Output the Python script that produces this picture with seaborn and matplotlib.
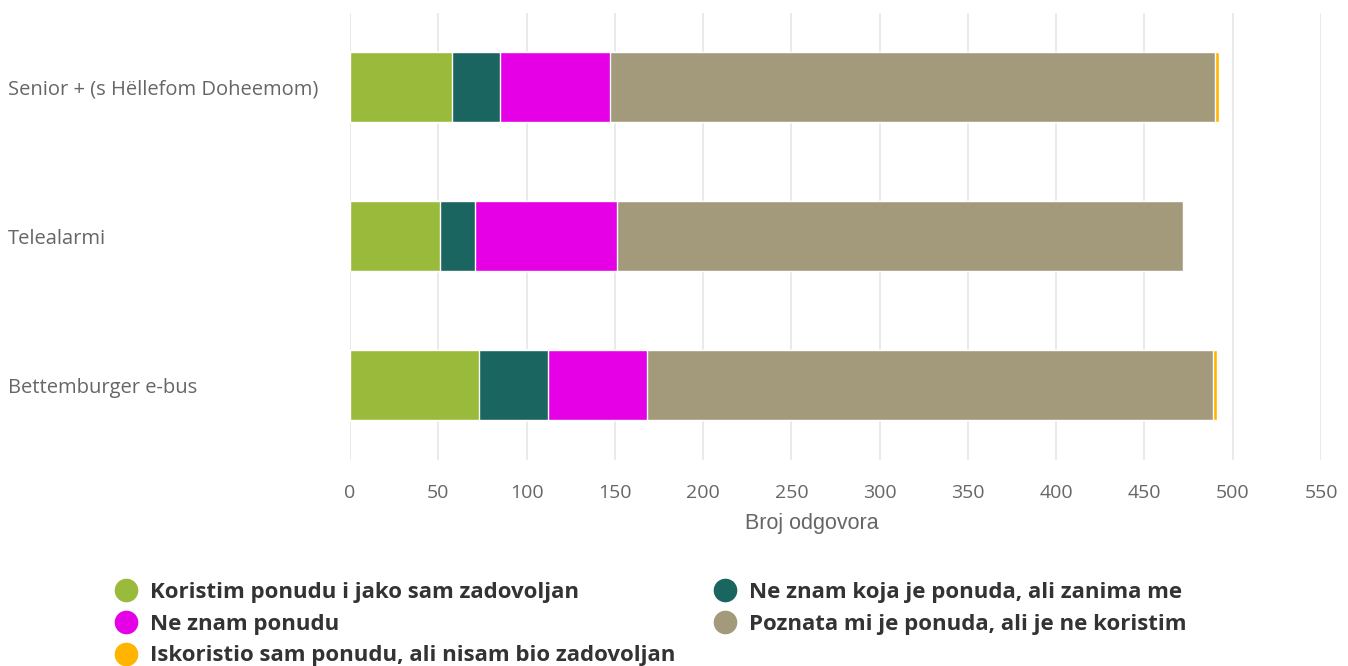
import matplotlib.pyplot as plt
import numpy as np
import pandas as pd
import seaborn as sns
from matplotlib.lines import Line2D

# podaci
kategorije = ['Senior + (s Hëllefom Doheemom)', 'Telealarmi', 'Bettemburger e-bus']
serije = ['Koristim ponudu i jako sam zadovoljan',
          'Ne znam koja je ponuda, ali zanima me',
          'Ne znam ponudu',
          'Poznata mi je ponuda, ali je ne koristim',
          'Iskoristio sam ponudu, ali nisam bio zadovoljan']
koristim = [58, 51, 73]
zanima_me = [27, 20, 39]
ne_znam = [62, 80, 56]
ne_koristim = [343, 321, 321]
nezadovoljan = [2, 0, 2]
boje = ['#9aba3c', '#1a6560', '#e600e6', '#a39a7c', '#ffb400']
x_ticks = [0, 50, 100, 150, 200, 250, 300, 350, 400, 450, 500, 550]

sns.set_theme(style='white')
plt.rcParams['font.family'] = ['Open Sans', 'DejaVu Sans']

df = pd.DataFrame({'kategorija': kategorije})
vrijednosti = [koristim, zanima_me, ne_znam, ne_koristim, nezadovoljan]
kum = np.cumsum(np.array(vrijednosti), axis=0)

fig = plt.figure(figsize=(13.48, 6.66), dpi=100)
ax = fig.add_axes([350 / 1348, 1 - 459.5 / 666, 971 / 1348, 447 / 666])

# složeni stupci: crtamo kumulativne sume od najveće prema najmanjoj
for i in range(len(serije) - 1, -1, -1):
    df['v'] = kum[i]
    sns.barplot(data=df, x='v', y='kategorija', color=boje[i], orient='h',
                width=0.47, edgecolor='white', linewidth=1, saturation=1, ax=ax)

ax.set_xlim(0, 550)
ax.set_ylim(2.5, -0.5)
ax.set_xticks(x_ticks)
ax.grid(axis='x', color='#e6e6e6', linewidth=1.2)
ax.set_axisbelow(True)
for s in ax.spines.values():
    s.set_visible(False)
ax.tick_params(axis='x', length=0, pad=17.5, labelsize=14, labelcolor='#666666')
ax.tick_params(axis='y', length=0, pad=246, labelsize=14.5, labelcolor='#666666')
for t in ax.get_yticklabels():
    t.set_horizontalalignment('left')
ax.set_ylabel('')
ax.set_xlabel('Broj odgovora', fontsize=15.5, color='#666666',
              family=['Liberation Sans', 'DejaVu Sans'])
ax.xaxis.set_label_coords(0.476, -0.12)

redoslijed = [0, 2, 4, 1, 3]
handles = [Line2D([], [], marker='o', linestyle='', markersize=16,
                  markerfacecolor=boje[i], markeredgecolor=boje[i]) for i in redoslijed]
labels = [serije[i] for i in redoslijed]
fig.legend(handles, labels, ncol=2, loc='upper left', bbox_to_anchor=(115 / 1348, 1 - 582 / 666),
           frameon=False, prop={'weight': 'bold', 'size': 16}, labelcolor='#333333',
           handlelength=1.0, handletextpad=0.59, labelspacing=0.48, columnspacing=1.7,
           borderpad=0, borderaxespad=0)

fig.savefig('out.png', dpi=100)
